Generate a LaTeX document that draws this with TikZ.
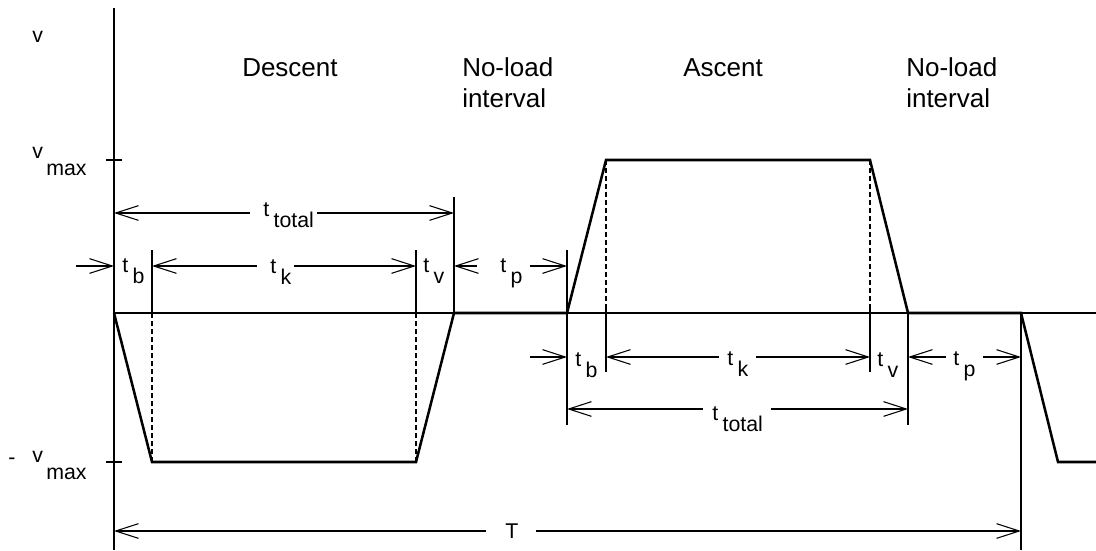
\documentclass[tikz,border=0pt]{standalone}
\usepackage{fontspec}
\setmainfont{Liberation Sans}
\usetikzlibrary{arrows.meta}
\newcommand{\tsub}[1]{t\hspace{3.3pt}\raisebox{-8.6pt}{#1}}
\newcommand{\vsub}[1]{v\hspace{2.5pt}\raisebox{-12.75pt}{#1}}
\begin{document}
\begin{tikzpicture}[x=0.75pt,y=-0.75pt,
  thin/.style={line width=0.8pt},
  wave/.style={line width=1.9pt,line join=miter},
  dsh/.style={line width=0.8pt,dash pattern=on 3.75pt off 2.25pt},
  lbl/.style={font=\fontsize{16}{19}\selectfont,inner sep=0pt,anchor=base west},
  head/.style={font=\fontsize{19.5}{23.25}\selectfont,inner sep=0pt,anchor=base west,align=left},
  >={Straight Barb[length=17pt,width=11pt]}]
\useasboundingbox (0,0) rectangle (1096,550);

% ---- axes
\coordinate (ytop) at (114,8);
\coordinate (ybot) at (114,550);
\coordinate (xo) at (114,313);
\coordinate (xend) at (1096,313);
\draw[thin] (ytop) -- (ybot);
\draw[thin] (xo) -- (xend);
\coordinate (tk1a) at (106,160); \coordinate (tk1b) at (122,160);
\coordinate (tk2a) at (106,462); \coordinate (tk2b) at (122,462);
\draw[thin] (tk1a) -- (tk1b);
\draw[thin] (tk2a) -- (tk2b);

% ---- axis labels
\node[lbl] (lv) at (32,42) {v};
\node[lbl] (lvmax) at (32,158) {\vsub{max}};
\node[lbl,anchor=center] (lminus) at (12,461) {-};
\node[lbl] (lvmin) at (32,462) {\vsub{max}};

% ---- headings
\node[head] (hdesc) at (242,76) {Descent};
\node[head,anchor=north west] (hnl1) at (462,57.5) {No-load\\interval};
\node[head] (hasc) at (683,76) {Ascent};
\node[head,anchor=north west] (hnl2) at (906,57.5) {No-load\\interval};

% ---- dashed projection lines
\coordinate (d1a) at (152,313); \coordinate (d1b) at (152,462);
\coordinate (d2a) at (416,313); \coordinate (d2b) at (416,462);
\coordinate (d3a) at (606,160); \coordinate (d3b) at (606,304);
\coordinate (d4a) at (870,160); \coordinate (d4b) at (870,304);
\draw[dsh] (d1a) -- (d1b);
\draw[dsh] (d2a) -- (d2b);
\draw[dsh] (d3a) -- (d3b);
\draw[dsh] (d4a) -- (d4b);

% ---- extension lines
\coordinate (e1a) at (152,250); \coordinate (e1b) at (152,313);
\coordinate (e2a) at (416,250); \coordinate (e2b) at (416,313);
\coordinate (e3a) at (454,197); \coordinate (e3b) at (454,313);
\coordinate (e4a) at (567,250); \coordinate (e4b) at (567,425);
\coordinate (e5a) at (606,304); \coordinate (e5b) at (606,372);
\coordinate (e6a) at (870,304); \coordinate (e6b) at (870,372);
\coordinate (e7a) at (908,313); \coordinate (e7b) at (908,425);
\coordinate (e8a) at (1021,313); \coordinate (e8b) at (1021,550);
\foreach \i in {1,...,8} {\draw[thin] (e\i a) -- (e\i b);}

% ---- waveform
\draw[wave] (114,313) -- (152,462) -- (416,462) -- (454,313) -- (567,313)
  -- (606,160) -- (870,160) -- (908,313) -- (1021,313) -- (1058,462) -- (1096,462);

% ---- labels
\node[lbl] (ltt1) at (263,216) {\tsub{total}};
\node[lbl] (ltb1) at (122,272) {\tsub{b}};
\node[lbl] (ltk1) at (270,273) {\tsub{k}};
\node[lbl] (ltv1) at (423,272) {\tsub{v}};
\node[lbl] (ltp1) at (500,272) {\tsub{p}};
\node[lbl] (ltb2) at (575,366) {\tsub{b}};
\node[lbl] (ltk2) at (727,365) {\tsub{k}};
\node[lbl] (ltv2) at (877,366) {\tsub{v}};
\node[lbl] (ltp2) at (953,365) {\tsub{p}};
\node[lbl] (ltt2) at (712,420) {\tsub{total}};
\node[lbl] (lT) at (505,538) {T};

% ---- dimension lines, upper row
\coordinate (a1) at (114,213); \coordinate (a1g) at (250,213);
\coordinate (a2g) at (317,213); \coordinate (a2) at (454,213);
\draw[thin,<-] (a1) -- (a1g);
\draw[thin,->] (a2g) -- (a2);
\coordinate (b0) at (76,266); \coordinate (b1) at (114,266);
\draw[thin,->] (b0) -- (b1);
\coordinate (k1) at (152,266); \coordinate (k1g) at (257,266);
\coordinate (k2g) at (294,266); \coordinate (k2) at (416,266);
\draw[thin,<-] (k1) -- (k1g);
\draw[thin,->] (k2g) -- (k2);
\coordinate (p1) at (454,266); \coordinate (p1g) at (477,266);
\coordinate (p2g) at (530,266); \coordinate (p2) at (567,266);
\draw[thin,<-] (p1) -- (p1g);
\draw[thin,->] (p2g) -- (p2);

% ---- dimension lines, lower row
\coordinate (c0) at (530,357); \coordinate (c1) at (567,357);
\draw[thin,->] (c0) -- (c1);
\coordinate (m1) at (606,357); \coordinate (m1g) at (719,357);
\coordinate (m2g) at (756,357); \coordinate (m2) at (870,357);
\draw[thin,<-] (m1) -- (m1g);
\draw[thin,->] (m2g) -- (m2);
\coordinate (q1) at (908,357); \coordinate (q1g) at (946,357);
\coordinate (q2g) at (983,357); \coordinate (q2) at (1021,357);
\draw[thin,<-] (q1) -- (q1g);
\draw[thin,->] (q2g) -- (q2);
\coordinate (s1) at (567,409); \coordinate (s1g) at (703,409);
\coordinate (s2g) at (771,409); \coordinate (s2) at (908,409);
\draw[thin,<-] (s1) -- (s1g);
\draw[thin,->] (s2g) -- (s2);
\coordinate (T1) at (114,531); \coordinate (T1g) at (486,531);
\coordinate (T2g) at (536,531); \coordinate (T2) at (1021,531);
\draw[thin,<-] (T1) -- (T1g);
\draw[thin,->] (T2g) -- (T2);
\end{tikzpicture}
\end{document}
